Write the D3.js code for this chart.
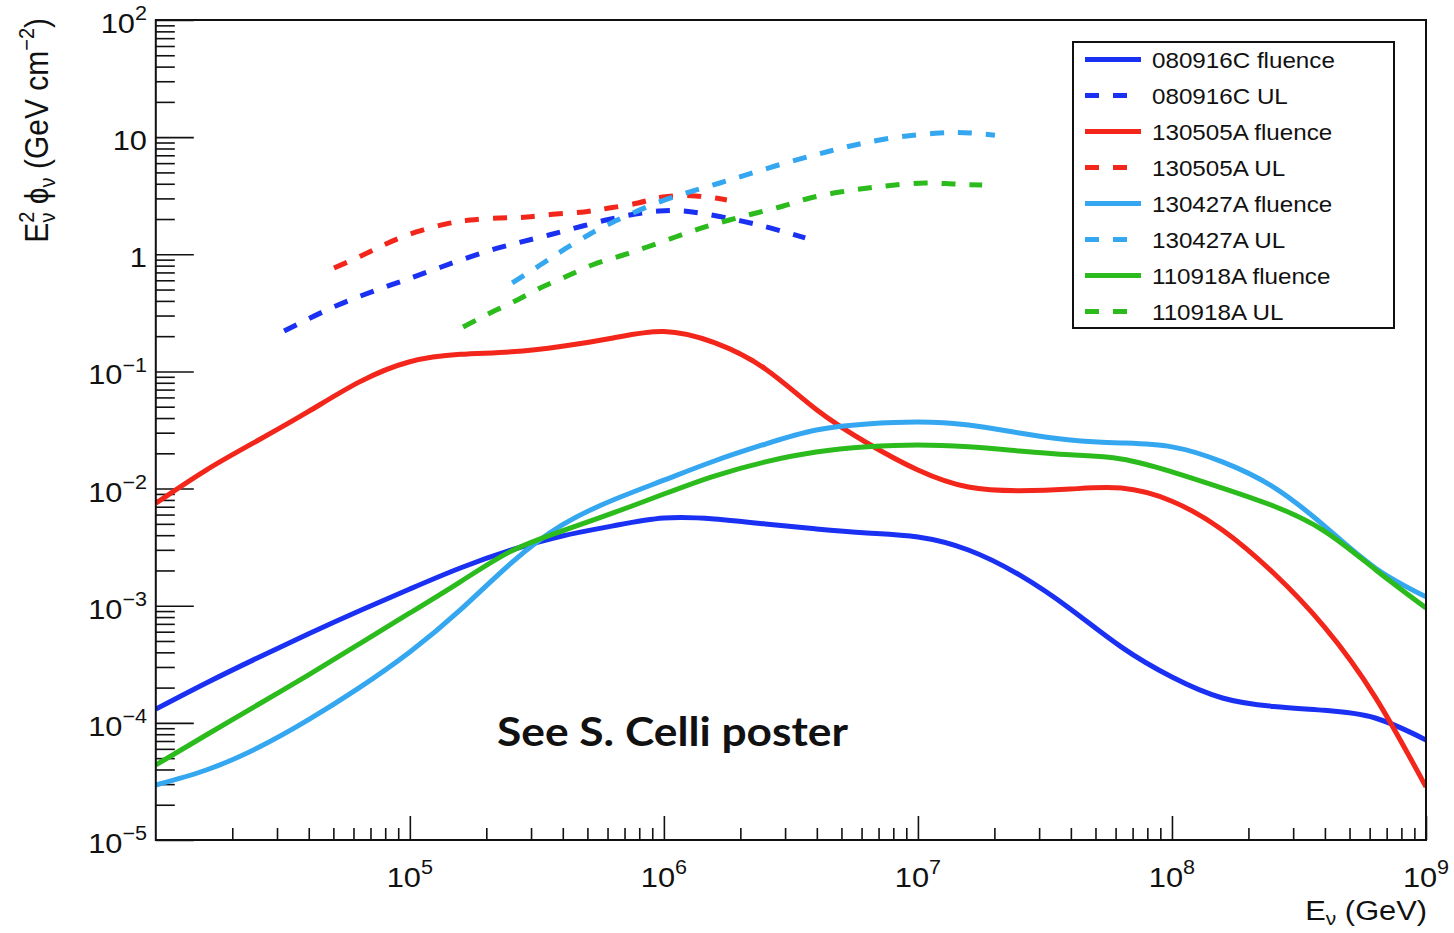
<!DOCTYPE html>
<html><head><meta charset="utf-8">
<script src="https://cdn.jsdelivr.net/npm/d3@7"></script>
<style>
html,body{margin:0;padding:0;background:#fff;}
svg{display:block;}
text{font-family:"Liberation Sans", Arial, Helvetica, sans-serif; fill:#111;}
</style></head><body>
<svg id="chart" width="1454" height="933"></svg>
<script>
// ---------- data ----------
const energyGrid = [1.0e4, 1.58e4, 2.51e4, 3.98e4, 6.31e4, 1.0e5, 1.58e5, 2.51e5, 3.98e5, 6.31e5,
  1.0e6, 1.58e6, 2.51e6, 3.98e6, 6.31e6, 1.0e7, 1.58e7, 2.51e7, 3.98e7, 6.31e7,
  1.0e8, 1.58e8, 2.51e8, 3.98e8, 6.31e8, 1.0e9];

const fluence080916C = [1.31e-4, 2.19e-4, 3.58e-4, 5.74e-4, 9.02e-4, 1.39e-3, 2.10e-3, 2.99e-3, 3.94e-3, 4.80e-3,
  5.60e-3, 5.50e-3, 4.99e-3, 4.52e-3, 4.18e-3, 3.86e-3, 2.99e-3, 1.83e-3, 9.38e-4, 4.45e-4,
  2.46e-4, 1.63e-4, 1.38e-4, 1.28e-4, 1.10e-4, 7.15e-5];
const fluence130505A = [7.5e-3, 1.44e-2, 2.56e-2, 4.53e-2, 8.1e-2, 0.121, 0.140, 0.147, 0.164, 0.193,
  0.219, 0.176, 0.105, 0.0473, 0.0245, 0.0144, 0.0103, 0.0096, 0.0099, 0.0101,
  0.0078, 0.00443, 0.00190, 6.6e-4, 1.66e-4, 2.84e-5];
const fluence130427A = [2.95e-5, 3.96e-5, 6.1e-5, 1.06e-4, 1.99e-4, 4.03e-4, 9.2e-4, 2.32e-3, 4.89e-3, 7.99e-3,
  1.18e-2, 1.72e-2, 2.40e-2, 3.16e-2, 3.56e-2, 3.70e-2, 3.49e-2, 2.98e-2, 2.60e-2, 2.45e-2,
  2.27e-2, 1.69e-2, 1.03e-2, 4.80e-3, 2.10e-3, 1.19e-3];
const fluence110918A = [4.37e-5, 7.88e-5, 1.42e-4, 2.56e-4, 4.71e-4, 8.67e-4, 1.60e-3, 2.93e-3, 4.35e-3, 6.19e-3,
  8.99e-3, 1.28e-2, 1.69e-2, 2.05e-2, 2.27e-2, 2.36e-2, 2.27e-2, 2.09e-2, 1.94e-2, 1.79e-2,
  1.39e-2, 1.01e-2, 7.1e-3, 4.34e-3, 2.04e-3, 9.57e-4];

const ulEnergy080916C = [3.2e4, 5.22e4, 8.43e4, 1.33e5, 2.16e5, 3.53e5, 5.92e5, 9.57e5, 1.39e6, 2.01e6, 2.62e6, 3.6e6];
const ul080916C = [0.221, 0.369, 0.547, 0.779, 1.11, 1.46, 1.96, 2.34, 2.25, 1.93, 1.68, 1.38];

const ulEnergy130505A = [5.03e4, 6.54e4, 8.21e4, 1.06e5, 1.38e5, 1.73e5, 2.25e5, 2.89e5, 3.76e5, 4.85e5, 6.08e5, 7.91e5, 9.93e5, 1.33e6, 1.77e6];
const ul130505A = [0.764, 0.986, 1.25, 1.55, 1.81, 1.96, 2.04, 2.08, 2.21, 2.30, 2.48, 2.74, 3.08, 3.15, 2.91];

const ulEnergy130427A = [2.53e5, 3.26e5, 4.08e5, 5.12e5, 6.43e5, 1.01e6, 1.66e6, 2.74e6, 4.51e6, 7.43e6, 1.22e7, 1.61e7, 2.01e7];
const ul130427A = [0.569, 0.81, 1.11, 1.49, 1.92, 2.91, 4.06, 5.67, 7.62, 9.64, 10.85, 10.85, 10.4];

const ulEnergy110918A = [1.62e5, 2.07e5, 2.60e5, 3.26e5, 4.08e5, 5.22e5, 6.72e5, 8.59e5, 1.11e6, 1.41e6, 1.81e6, 2.31e6, 2.95e6, 3.76e6, 4.94e6, 6.37e6, 8.13e6, 1.07e7, 1.38e7, 1.79e7];
const ul110918A = [0.2395, 0.315, 0.399, 0.516, 0.640, 0.810, 0.967, 1.154, 1.405, 1.677, 1.963, 2.252, 2.584, 3.024, 3.402, 3.68, 3.905, 4.06, 3.98, 3.905];

const legendLabels = ["080916C fluence", "080916C UL", "130505A fluence", "130505A UL",
  "130427A fluence", "130427A UL", "110918A fluence", "110918A UL"];

const xMajorTicks = [1e5, 1e6, 1e7, 1e8, 1e9];
const xTickLabels = ["10^5", "10^6", "10^7", "10^8", "10^9"];
const yMajorTicks = [1e-5, 1e-4, 1e-3, 1e-2, 1e-1, 1, 10, 100];
const yTickLabels = ["10^\u22125", "10^\u22124", "10^\u22123", "10^\u22122", "10^\u22121", "1", "10", "10^2"];
const annotation = "See S. Celli poster";

// ---------- styles ----------
const C_BLUE = "#1a30f2", C_RED = "#f2261a", C_LBLUE = "#35a7f0", C_GREEN = "#2cbb1c";

const series = [
  {label: legendLabels[0], E: energyGrid, v: fluence080916C, color: C_BLUE, dash: null},
  {label: legendLabels[1], E: ulEnergy080916C, v: ul080916C, color: C_BLUE, dash: "14,14"},
  {label: legendLabels[2], E: energyGrid, v: fluence130505A, color: C_RED, dash: null},
  {label: legendLabels[3], E: ulEnergy130505A, v: ul130505A, color: C_RED, dash: "14,14"},
  {label: legendLabels[4], E: energyGrid, v: fluence130427A, color: C_LBLUE, dash: null},
  {label: legendLabels[5], E: ulEnergy130427A, v: ul130427A, color: C_LBLUE, dash: "14,14"},
  {label: legendLabels[6], E: energyGrid, v: fluence110918A, color: C_GREEN, dash: null},
  {label: legendLabels[7], E: ulEnergy110918A, v: ul110918A, color: C_GREEN, dash: "14,14"}
];

const L = 155.8, R = 1426, T = 20, B = 840;
const svg = d3.select("#chart");
const x = d3.scaleLog().domain([1e4, 1e9]).range([L, R]);
const y = d3.scaleLog().domain([1e-5, 1e2]).range([B, T]);

// minor ticks
const xMinor = [], yMinor = [];
for (let k = 4; k < 9; k++) for (let m = 2; m <= 9; m++) xMinor.push(m * Math.pow(10, k));
for (let k = -5; k < 2; k++) for (let m = 2; m <= 9; m++) yMinor.push(m * Math.pow(10, k));

function styleAxis(g) {
  g.select(".domain").remove();
  g.selectAll(".tick line").attr("stroke", "#111").attr("stroke-width", 1.6);
}
svg.append("g").attr("transform", `translate(0,${B})`)
  .call(d3.axisBottom(x).tickValues(xMinor).tickSize(-12).tickFormat("")).call(styleAxis);
svg.append("g").attr("transform", `translate(0,${B})`)
  .call(d3.axisBottom(x).tickValues(xMajorTicks).tickSize(-24).tickFormat("")).call(styleAxis);
svg.append("g").attr("transform", `translate(${L},0)`)
  .call(d3.axisLeft(y).tickValues(yMinor).tickSize(-19).tickFormat("")).call(styleAxis);
svg.append("g").attr("transform", `translate(${L},0)`)
  .call(d3.axisLeft(y).tickValues(yMajorTicks).tickSize(-38).tickFormat("")).call(styleAxis);

// curves
svg.append("clipPath").attr("id", "clip").append("rect")
  .attr("x", L).attr("y", T).attr("width", R - L).attr("height", B - T);
const line = d3.line().x(d => x(d[0])).y(d => y(d[1])).curve(d3.curveNatural);
const gCurves = svg.append("g").attr("clip-path", "url(#clip)");
series.forEach(s => {
  gCurves.append("path")
    .attr("d", line(s.E.map((e, i) => [e, s.v[i]])))
    .attr("fill", "none").attr("stroke", s.color).attr("stroke-width", 5)
    .attr("stroke-dasharray", s.dash).attr("stroke-linejoin", "round");
});

// frame
svg.append("rect").attr("x", L).attr("y", T).attr("width", R - L).attr("height", B - T)
  .attr("fill", "none").attr("stroke", "#111").attr("stroke-width", 2);

// power labels
const SX = 1.1;
function powLabel(parent, str, px, py, anchor, size) {
  const g = parent.append("g").attr("transform", `translate(${px},${py}) scale(${SX},1)`);
  const t = g.append("text").attr("text-anchor", anchor).attr("font-size", size);
  const parts = str.split("^");
  t.append("tspan").text(parts[0]);
  if (parts[1]) t.append("tspan").attr("font-size", size * 0.7).attr("dy", -size * 0.45).text(parts[1]);
}
xMajorTicks.forEach((v, i) => powLabel(svg, xTickLabels[i], x(v), 887, "middle", 28));
yMajorTicks.forEach((v, i) => powLabel(svg, yTickLabels[i], 147, y(v) + 13, "end", 28));

// x title
{
  const g = svg.append("g").attr("transform", `translate(1427,920) scale(${SX},1)`);
  const t = g.append("text").attr("text-anchor", "end").attr("font-size", 28);
  t.append("tspan").text("E");
  t.append("tspan").attr("font-size", 19).attr("dy", 5).text("\u03bd");
  t.append("tspan").attr("dy", -5).text(" (GeV)");
}
// y title
{
  const g = svg.append("g").attr("transform", `translate(48,18) rotate(-90) scale(1,${SX})`);
  const t = g.append("text").attr("text-anchor", "end").attr("font-size", 30);
  t.append("tspan").text("E");
  t.append("tspan").attr("font-size", 20).attr("dy", -13).text("2");
  t.append("tspan").attr("font-size", 20).attr("dx", -11).attr("dy", 19).text("\u03bd");
  t.append("tspan").attr("dy", -6).text(" \u03d5");
  t.append("tspan").attr("font-size", 20).attr("dy", 6).text("\u03bd");
  t.append("tspan").attr("dy", -6).text(" (GeV cm");
  t.append("tspan").attr("font-size", 20).attr("dy", -13).text("\u22122");
  t.append("tspan").attr("dy", 13).text(")");
}

// legend
const lg = svg.append("g");
lg.append("rect").attr("x", 1073).attr("y", 42).attr("width", 321).attr("height", 286)
  .attr("fill", "#fff").attr("stroke", "#111").attr("stroke-width", 2);
series.forEach((s, i) => {
  const cy = 59.5 + i * 36;
  lg.append("line").attr("x1", 1085).attr("x2", 1141).attr("y1", cy).attr("y2", cy)
    .attr("stroke", s.color).attr("stroke-width", 5).attr("stroke-dasharray", s.dash);
  lg.append("g").attr("transform", `translate(1152,${cy + 8}) scale(${SX},1)`)
    .append("text").attr("font-size", 22).text(s.label);
});

// annotation
svg.append("text").attr("x", 497).attr("y", 746)
  .attr("font-weight", 700)
  .attr("font-size", 40).attr("textLength", 351).attr("lengthAdjust", "spacingAndGlyphs")
  .style("font-family", "Lato, 'Open Sans', sans-serif").text(annotation);
</script>
</body></html>
